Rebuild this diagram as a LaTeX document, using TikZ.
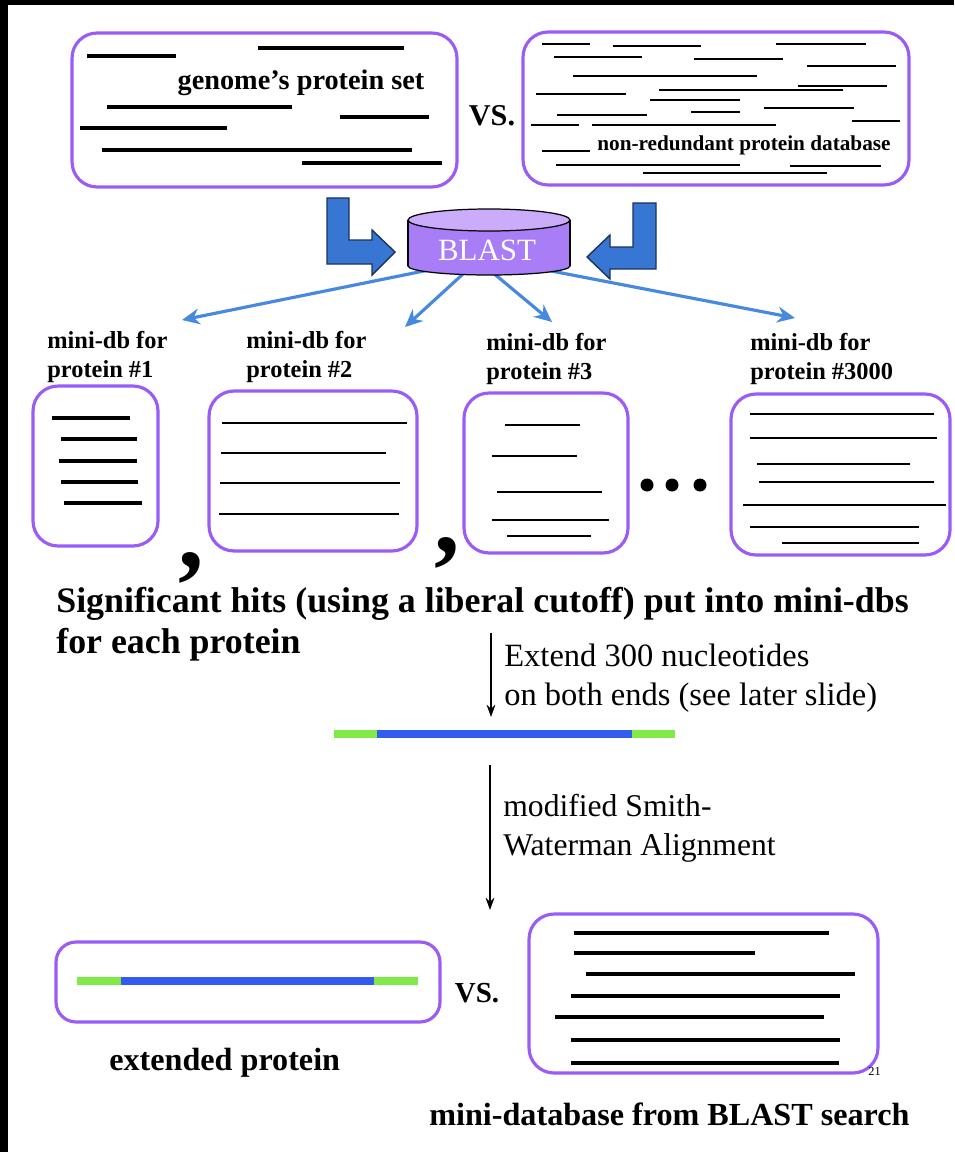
\documentclass[tikz,border=0pt]{standalone}
\usepackage{fontspec}
\setmainfont{Liberation Serif}
\usetikzlibrary{positioning, arrows.meta}

\definecolor{dbpurple}{RGB}{155,92,246}
\definecolor{fanblue}{RGB}{70,137,222}
\definecolor{bentblue}{RGB}{56,118,212}
\definecolor{bentedge}{RGB}{30,50,90}
\definecolor{blastbody}{RGB}{168,125,246}
\definecolor{blasttop}{RGB}{203,172,251}
\definecolor{extgreen}{RGB}{128,234,70}
\definecolor{extblue}{RGB}{52,90,240}

\begin{document}
\begin{tikzpicture}[x=0.02cm, y=-0.02cm,
      dbbox/.style={draw=dbpurple, line width=1.8pt, rounded corners=0.5cm, inner sep=0pt},
      hit/.style={line width=2.2pt},
      thinhit/.style={line width=1.7pt},
      fan/.style={draw=fanblue, line width=1.8pt, -{Stealth[length=10pt, width=9pt]}},
      down/.style={line width=0.9pt, -{Stealth[length=7pt, width=5pt]}},
      bent/.style={fill=bentblue, draw=bentedge, line width=0.8pt},
      dblabel/.style={font=\fontsize{13.9}{16.5}\selectfont\bfseries, align=left, inner sep=0pt, anchor=north west},
      bigtxt/.style={font=\fontsize{18.3}{22}\selectfont\bfseries, inner sep=0pt, anchor=base west}]
    \useasboundingbox (0,0) rectangle (954,1152);
    \fill[white] (0,0) rectangle (954,1152);
    \fill[black] (0,0) rectangle (954,5);
    \fill[black] (0,0) rectangle (8,1152);
    % genome's protein set
    \node[dbbox, minimum width=7.7cm, minimum height=3.08cm] (genome) at (264.5,110) {};
    \foreach \a/\b/\y in {87/176/56, 258/404/48, 107/292/107, 340/429/117, 80/227/128, 102/412/150, 302/442/163}
      \draw[hit] (\a,\y) -- (\b,\y);
    \node[font=\fontsize{16.1}{19}\selectfont\bfseries] (genometxt) at (301,83) {genome’s protein set};
    \node[font=\fontsize{17.2}{19}\selectfont\bfseries, anchor=base] (vstop) at (492,126) {VS.};
    % non-redundant database
    \node[dbbox, minimum width=7.72cm, minimum height=3.06cm] (nrdb) at (716,108.5) {};
    \foreach \a/\b/\y in {542/590/44, 613/701/46, 776/866/44, 554/642/57, 694/783/59, 807/896/66,
        573/757/76, 798/887/86, 659/843/90, 536/626/94, 650/740/100, 764/854/108, 691/740/112,
        557/647/115, 852/900/121, 531/579/125, 592/776/125, 542/590/151, 556/740/165, 790/881/166, 643/827/173}
      \draw[thinhit] (\a,\y) -- (\b,\y);
    \node[font=\fontsize{12.1}{14}\selectfont\bfseries] (nrdbtxt) at (744,145) {non-redundant protein database};
    % BLAST
    \node[minimum width=3.24cm, minimum height=1.32cm, inner sep=0pt] (blast) at (489,242) {};
    \coordinate (tip1) at (182,320);
    \coordinate (tip2) at (405,327);
    \coordinate (tip3) at (552,322);
    \coordinate (tip3000) at (795,318);
    \draw[fan] ([xshift=-1.24cm, yshift=0.1cm]blast.south) -- (tip1);
    \draw[fan] ([xshift=-0.44cm, yshift=0.1cm]blast.south) -- (tip2);
    \draw[fan] ([xshift=0.02cm, yshift=0.1cm]blast.south) -- (tip3);
    \draw[fan] ([xshift=1.18cm, yshift=0.1cm]blast.south) -- (tip3000);
    \filldraw[fill=blastbody, draw=black, line width=0.7pt] (489,266) ellipse [x radius=1.62cm, y radius=0.18cm];
    \fill[blastbody] (408,220) rectangle (570,266);
    \draw[line width=0.7pt] (408,220) -- (408,266) (570,220) -- (570,266);
    \filldraw[fill=blasttop, draw=black, line width=0.7pt] (489,220) ellipse [x radius=1.62cm, y radius=0.22cm];
    \node[font=\fontsize{17.6}{20}\selectfont, text=white] (blasttxt) at (487,250) {BLAST};
    \draw[bent] (327,198) -- (349,198) -- (349,240) -- (372,240) -- (372,230) -- (395,252)
      -- (372,275) -- (372,264) -- (327,264) -- cycle;
    \draw[bent] (656,203) -- (633,203) -- (633,247) -- (610,247) -- (610,235) -- (587,257)
      -- (610,279) -- (610,269) -- (656,269) -- cycle;
    % mini-dbs
    \node[dblabel] (lbl1) at (47,331) {mini-db for\\protein \#1};
    \node[dblabel] (lbl2) at (246,331) {mini-db for\\protein \#2};
    \node[dblabel] (lbl3) at (486,333) {mini-db for\\protein \#3};
    \node[dblabel] (lbl3000) at (750,333) {mini-db for\\protein \#3000};
    \node[dbbox, minimum width=2.5cm, minimum height=3.2cm] (db1) at (95.5,466) {};
    \foreach \a/\b/\y in {52/130/418, 61/137/439, 59/137/461, 61/138/482, 64/142/503}
      \draw[hit] (\a,\y) -- (\b,\y);
    \node[dbbox, minimum width=4.16cm, minimum height=3.2cm] (db2) at (313,471) {};
    \foreach \a/\b/\y in {222/407/423, 221/386/453, 220/400/483, 219/399/514}
      \draw[thinhit] (\a,\y) -- (\b,\y);
    \node[dbbox, minimum width=3.28cm, minimum height=3.2cm] (db3) at (546,473) {};
    \foreach \a/\b/\y in {505/580/425, 492/577/456, 497/602/492, 492/609/520, 507/591/536}
      \draw[thinhit] (\a,\y) -- (\b,\y);
    \fill (647,485) circle [radius=0.13cm];
    \fill (672,485) circle [radius=0.13cm];
    \fill (700,485) circle [radius=0.13cm];
    \node[dbbox, minimum width=4.38cm, minimum height=3.22cm] (db3000) at (840.5,474.5) {};
    \foreach \a/\b/\y in {750/934/414, 750/937/438, 757/910/464, 759/934/482, 743/946/505, 750/919/527, 782/919/543}
      \draw[thinhit] (\a,\y) -- (\b,\y);
    \node[font=\fontsize{58}{58}\selectfont\bfseries, anchor=base, inner sep=0pt] (comma1) at (191,567) {,};
    \node[font=\fontsize{58}{58}\selectfont\bfseries, anchor=base, inner sep=0pt] (comma2) at (447,552) {,};
    \node[font=\fontsize{20.4}{23.3}\selectfont\bfseries, align=left, inner sep=0pt, anchor=north west] (hitstxt)
      at (56,587) {Significant hits (using a liberal cutoff) put into mini-dbs\\for each protein};
    % extension
    \coordinate (ext1s) at (491,633);
    \coordinate (ext1e) at (491,717);
    \draw[down] (ext1s) -- (ext1e);
    \node[font=\fontsize{18.5}{22.2}\selectfont, align=left, inner sep=0pt, anchor=north west] (extendtxt)
      at (504,644) {Extend 300 nucleotides\\on both ends (see later slide)};
    \draw[extgreen, line width=4.5pt] (334,734) -- (675,734);
    \draw[extblue, line width=4.5pt] (377,734) -- (632,734);
    \coordinate (sws) at (490,765);
    \coordinate (swe) at (490,910);
    \draw[down] (sws) -- (swe);
    \node[font=\fontsize{18}{22.2}\selectfont, align=left, inner sep=0pt, anchor=north west] (swtxt)
      at (503,794) {modified Smith-\\Waterman Alignment};
    % comparison
    \node[dbbox, rounded corners=0.4cm, minimum width=7.68cm, minimum height=1.6cm] (extbox) at (248,982) {};
    \draw[extgreen, line width=4.5pt] (77,981) -- (418,981);
    \draw[extblue, line width=4.5pt] (121,981) -- (374,981);
    \node[font=\fontsize{16.5}{19}\selectfont\bfseries, anchor=base] (vsbottom) at (477,1002) {VS.};
    \node[dbbox, minimum width=6.98cm, minimum height=3.18cm] (minidb) at (703.5,993.5) {};
    \foreach \a/\b/\y in {574/829/933, 574/755/953, 586/855/974, 571/840/996, 555/824/1017, 571/840/1040, 571/839/1063}
      \draw[hit] (\a,\y) -- (\b,\y);
    \node[bigtxt] (exttxt) at (109,1070) {extended protein};
    \node[bigtxt] (minidbtxt) at (429,1125) {mini-database from BLAST search};
    \node[font=\fontsize{7}{8}\selectfont, inner sep=0pt, anchor=base west] (pagenum) at (868,1075) {21};
\end{tikzpicture}
\end{document}
